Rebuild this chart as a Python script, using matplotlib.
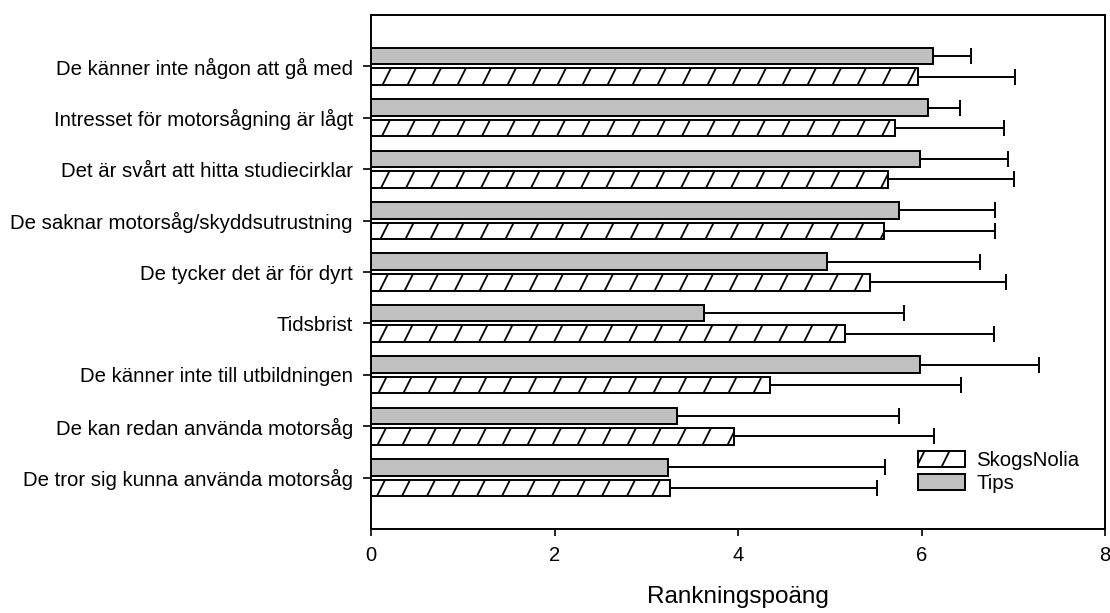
import numpy as np
import matplotlib
matplotlib.use('Agg')
import matplotlib.pyplot as plt
from matplotlib import hatch as mhatch
from matplotlib.patches import Patch

plt.rcParams['font.family'] = ['Liberation Sans', 'DejaVu Sans']
plt.rcParams['hatch.linewidth'] = 1.3


# SigmaPlot-style hatch: steeper and wider spaced than matplotlib's '/'
class SteepHatch(mhatch.HatchPatternBase):
    def __init__(self, hatch, density):
        n = hatch.count('/')
        self.offsets = np.arange(-1.0, 2.01, 0.5) if n else np.array([])
        self.num_vertices = len(self.offsets) * 2

    def set_vertices_and_codes(self, vertices, codes):
        y0, y1 = -0.05, 1.05
        vertices[0::2, 0] = (self.offsets + y0) / 2
        vertices[0::2, 1] = y0
        vertices[1::2, 0] = (self.offsets + y1) / 2
        vertices[1::2, 1] = y1
        codes[0::2] = mhatch.Path.MOVETO
        codes[1::2] = mhatch.Path.LINETO


mhatch._hatch_types[mhatch._hatch_types.index(mhatch.NorthEastHatch)] = SteepHatch

# ── Data (top to bottom as in the figure) ─────────────────────────────────────
categories = [
    'De känner inte någon att gå med',
    'Intresset för motorsågning är lågt',
    'Det är svårt att hitta studiecirklar',
    'De saknar motorsåg/skyddsutrustning',
    'De tycker det är för dyrt',
    'Tidsbrist',
    'De känner inte till utbildningen',
    'De kan redan använda motorsåg',
    'De tror sig kunna använda motorsåg',
]
tips       = [6.12, 6.07, 5.98, 5.75, 4.97, 3.63, 5.98, 3.33, 3.24]
tips_sd    = [0.42, 0.35, 0.96, 1.05, 1.67, 2.18, 1.30, 2.43, 2.36]
skogs      = [5.96, 5.71, 5.64, 5.59, 5.44, 5.17, 4.35, 3.96, 3.26]
skogs_sd   = [1.06, 1.19, 1.37, 1.21, 1.48, 1.62, 2.08, 2.18, 2.26]
xticks     = [0, 2, 4, 6, 8]

y = np.arange(len(categories))[::-1]
h = 0.32
off = 0.2

fig = plt.figure(figsize=(11.1, 6.13), dpi=100)
ax = fig.add_axes([371/1110, 1 - 529/613, 734/1110, 514/613])

err_kw = dict(ecolor='black', elinewidth=1.4, capsize=5.5, capthick=1.4)
ax.barh(y + off, tips, height=h, color='#c0c0c0', edgecolor='black',
        linewidth=1.4, xerr=[np.zeros(len(tips)), tips_sd], error_kw=err_kw)
ax.barh(y - off, skogs, height=h, color='white', edgecolor='black',
        linewidth=1.4, hatch='/', xerr=[np.zeros(len(skogs)), skogs_sd],
        error_kw=err_kw)

ax.set_xlim(0, 8)
ax.set_ylim(-1, len(categories))
ax.set_xticks(xticks)
ax.set_xticklabels([str(t) for t in xticks], fontsize=14.5)
ax.set_yticks(y)
ax.set_yticklabels(categories, fontsize=14.7)
ax.tick_params(axis='x', direction='out', length=5, width=1.2, pad=7)
ax.tick_params(axis='y', direction='out', length=6, width=1.2, pad=7)
for s in ax.spines.values():
    s.set_linewidth(1.4)
ax.set_xlabel('Rankningspoäng', fontsize=17.5, labelpad=15)

handles = [Patch(facecolor='white', edgecolor='black', hatch='/', linewidth=1.4, label='SkogsNolia'),
           Patch(facecolor='#c0c0c0', edgecolor='black', linewidth=1.4, label='Tips')]
ax.legend(handles=handles, loc='upper left',
          bbox_to_anchor=((918 - 371) / 734, (529 - 451) / 514),
          frameon=False, fontsize=14.7, borderpad=0, borderaxespad=0,
          handlelength=2.3, handleheight=0.8, handletextpad=0.55,
          labelspacing=0.2)

plt.savefig('out.png', dpi=100)
plt.close()
